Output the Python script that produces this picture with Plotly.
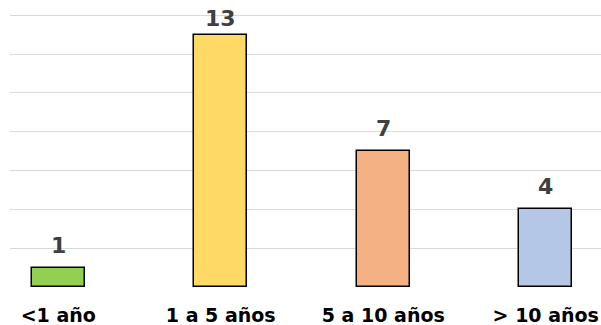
import plotly.graph_objects as go

categories = ["<1 año", "1 a 5 años", "5 a 10 años", "> 10 años"]
values = [1, 13, 7, 4]
colors = ["#92D050", "#FFD966", "#F4B183", "#B4C7E7"]
grid_ticks = [0, 2, 4, 6, 8, 10, 12, 14]

# vertical offset (px) of each value label above its bar; the tallest one sits tighter
label_shift = [8, 2, 8, 8]

positions = list(range(len(categories)))

fig = go.Figure(
    go.Bar(
        x=positions,
        y=values,
        width=0.325,
        marker=dict(color=colors, line=dict(color="#000000", width=1.5)),
        hoverinfo="skip",
    )
)

for xi, v, s in zip(positions, values, label_shift):
    fig.add_annotation(
        x=xi, y=v, text=f"<b>{v}</b>", showarrow=False,
        yanchor="bottom", yshift=s,
        font=dict(family="DejaVu Sans", size=22, color="#404040"),
    )

fig.update_layout(
    width=601, height=325,
    margin=dict(l=10, r=0, t=0, b=38),
    paper_bgcolor="white", plot_bgcolor="white",
    showlegend=False,
    bargap=0,
    xaxis=dict(
        range=[-0.297, 3.34],
        tickmode="array", tickvals=positions,
        ticktext=[f"<b>{c}</b>" for c in categories],
        tickfont=dict(family="DejaVu Sans", size=19, color="#000000"),
        showgrid=False, zeroline=False, showline=False, ticks="",
        ticklabelstandoff=15,
    ),
    yaxis=dict(
        range=[0, 14.79],
        tickmode="array", tickvals=grid_ticks,
        showticklabels=False,
        showgrid=True, gridcolor="#D9D9D9", gridwidth=1.2,
        zeroline=False, showline=False,
    ),
)

fig.write_html("out.html")
